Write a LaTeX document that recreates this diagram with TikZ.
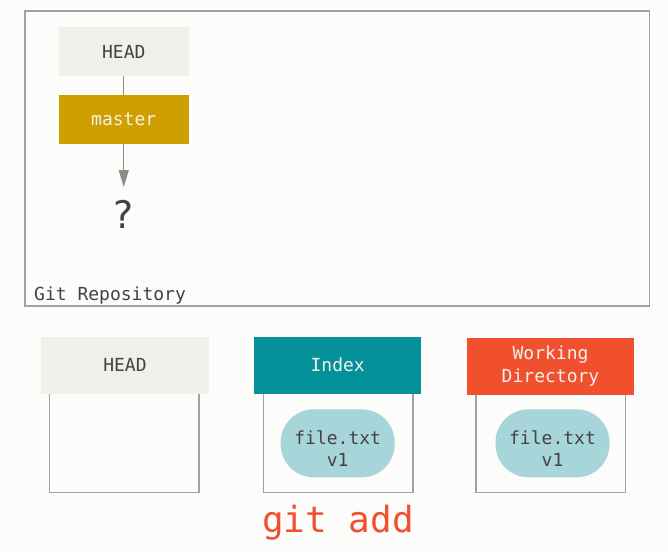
\documentclass[tikz,border=0pt]{standalone}
\usepackage{fontspec}
\setmainfont{DejaVu Sans}
\setmonofont{DejaVu Sans Mono}
\usetikzlibrary{arrows.meta}
\definecolor{bg}{HTML}{FCFCFA}
\definecolor{frame}{HTML}{A3A19D}
\definecolor{headfill}{HTML}{F0EFEA}
\definecolor{txt}{HTML}{45423F}
\definecolor{gold}{HTML}{CF9F00}
\definecolor{tealc}{HTML}{05919A}
\definecolor{gitred}{HTML}{F1502F}
\definecolor{blobc}{HTML}{A8D5DA}
\definecolor{arr}{HTML}{8E8A85}
\definecolor{lighttxt}{HTML}{F2F1EC}
\begin{document}
\begin{tikzpicture}[x=1pt,y=-1pt,
  lbl/.style={font=\ttfamily\fontsize{18}{21.5}\selectfont, align=center, text=txt, inner sep=0},
  topbox/.style={lbl, minimum width=129.5, minimum height=49.5, outer sep=0},
  hdrbox/.style={lbl, minimum width=167.5, minimum height=57, outer sep=0},
  bodybox/.style={draw=frame, line width=1.5pt, minimum width=149.5, minimum height=112.5, inner sep=0},
  blob/.style={fill=blobc, rounded corners=33pt, minimum width=114, minimum height=68, inner sep=0},
  conn/.style={draw=arr, line width=1.3pt}
]
\fill[bg] (0,0) rectangle (668,551);
\useasboundingbox (0,0) rectangle (668,551);

% Git repository frame
\node[draw=frame, line width=1.5pt, minimum width=624.5, minimum height=295, inner sep=0] (repo) at (337.25,158.5) {};
\node[lbl, anchor=base west] (repolbl) at (34,300) {Git Repository};

% HEAD -> master -> ?
\node[topbox, fill=headfill] (head) at (123.75,51.6) {HEAD};
\node[topbox, fill=gold, text=lighttxt] (master) at (123.75,119.5) {master};
\coordinate (tip) at (123.75,187);
\node[font=\fontsize{38}{40}\selectfont, text=txt, anchor=base, inner sep=0] (q) at (123.75,228) {?};
\draw[conn] (head.south) -- (master.north);
\draw[conn, -{Triangle[length=17pt,width=10pt]}, arr] (master.south) -- (tip);

% bottom three trees
\node[bodybox] (b1) at (124.2,436.25) {};
\node[bodybox] (b2) at (338,436.25) {};
\node[bodybox] (b3) at (550.5,436.25) {};

\node[hdrbox, fill=headfill] (h1) at (125,365) {HEAD};
\node[hdrbox, fill=tealc, text=lighttxt] (h2) at (337.7,365) {Index};
\node[hdrbox, fill=gitred, text=lighttxt] (h3) at (550.5,366) {Working\\[1pt]Directory};

\node[blob] (f2) at (337.7,443.3) {};
\node[lbl] (f2t) at (337.7,448.5) {file.txt\\v1};
\node[blob] (f3) at (552.5,443.3) {};
\node[lbl] (f3t) at (552.5,448.5) {file.txt\\v1};

\node[font=\ttfamily\fontsize{36}{40}\selectfont, text=gitred, anchor=base, inner sep=0] (cmd) at (338,532) {git add};
\end{tikzpicture}
\end{document}
